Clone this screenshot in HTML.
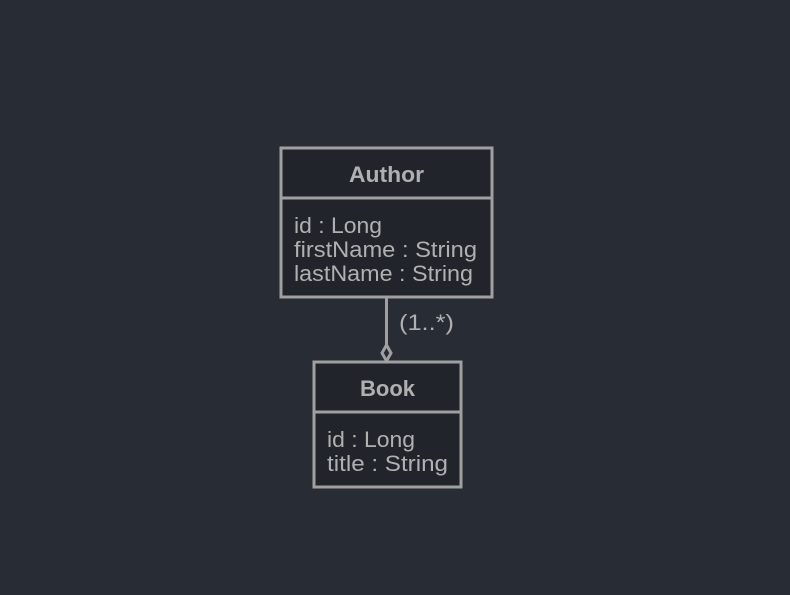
<!DOCTYPE html>
<html><head><style>
html,body{margin:0;padding:0;background:#282c34;}
svg{display:block;}
text{font-family:"Liberation Sans",sans-serif;fill:#b0b0b0;font-size:22px;}
</style></head><body>
<svg width="790" height="595" xmlns="http://www.w3.org/2000/svg">
<rect width="790" height="595" fill="#282c34"/>
<g stroke="#a0a0a0" stroke-width="3" fill="#21252b">
<rect x="281" y="148" width="211" height="149"/>
<line x1="281" y1="198" x2="492" y2="198"/>
<rect x="314" y="362" width="147" height="125"/>
<line x1="314" y1="412" x2="461" y2="412"/>
<line x1="386.5" y1="297" x2="386.5" y2="345"/>
<polygon points="386.5,345 391,353 386.5,361 382,353" fill="#282c34"/>
</g>
<text x="349" y="182" font-weight="bold" textLength="75" lengthAdjust="spacingAndGlyphs">Author</text>
<text x="294" y="233" textLength="88" lengthAdjust="spacingAndGlyphs">id : Long</text>
<text x="294" y="257" textLength="183" lengthAdjust="spacingAndGlyphs">firstName : String</text>
<text x="294" y="281" textLength="179" lengthAdjust="spacingAndGlyphs">lastName : String</text>
<text x="399" y="330" textLength="55" lengthAdjust="spacingAndGlyphs">(1..*)</text>
<text x="360" y="396" font-weight="bold" textLength="55" lengthAdjust="spacingAndGlyphs">Book</text>
<text x="327" y="447" textLength="88" lengthAdjust="spacingAndGlyphs">id : Long</text>
<text x="327" y="471" textLength="121" lengthAdjust="spacingAndGlyphs">title : String</text>
</svg>
</body></html>
